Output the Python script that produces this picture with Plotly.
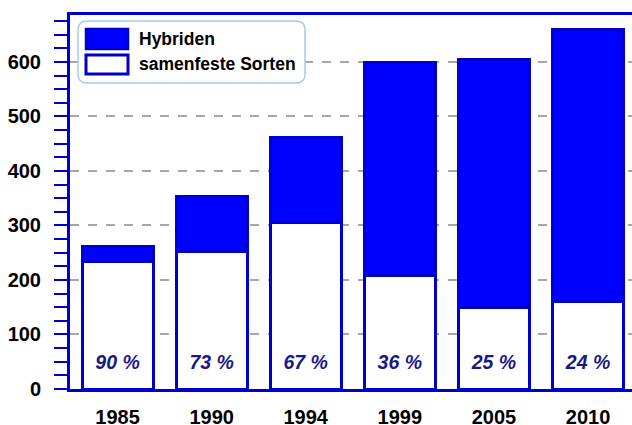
import plotly.graph_objects as go

years = ["1985", "1990", "1994", "1999", "2005", "2010"]
samenfest = [233, 253, 306, 209, 150, 160]
hybriden = [29, 101, 156, 389, 454, 500]
percent_labels = ["90 %", "73 %", "67 %", "36 %", "25 %", "24 %"]
label_level = 46
series_names = ["Hybriden", "samenfeste Sorten"]

W, H = 632, 425
ML, MR, MT, MB = 70, 0, 15, 36
PW, PH = W - ML - MR, H - MT - MB

def px(x):
    return (x - ML) / PW

def py(y):
    return (H - MB - y) / PH

FONT = "Liberation Sans, Arial, sans-serif"
EDGE = "#0000cc"

fig = go.Figure()
fig.add_trace(go.Bar(x=years, y=samenfest, name=series_names[1],
                     marker=dict(color="white", line=dict(color=EDGE, width=3)),
                     showlegend=False))
fig.add_trace(go.Bar(x=years, y=hybriden, name=series_names[0],
                     marker=dict(color="#0000ff", line=dict(color=EDGE, width=3)),
                     showlegend=False))
# percent labels as a text layer
fig.add_trace(go.Scatter(x=years, y=[label_level] * len(years), mode="text",
                         text=percent_labels, textposition="middle center",
                         textfont=dict(family=FONT, size=19.5, color="#18188a",
                                       weight="bold", style="italic"),
                         showlegend=False, hoverinfo="skip", cliponaxis=False))

# legend drawn manually (rounded box with large swatches)
x0, x1, y0, y1 = px(78), px(305), py(21), py(83)
rx, ry = 9 / PW, 9 / PH
path = (f"M{x0+rx},{y0} L{x1-rx},{y0} Q{x1},{y0} {x1},{y0-ry} "
        f"L{x1},{y1+ry} Q{x1},{y1} {x1-rx},{y1} L{x0+rx},{y1} "
        f"Q{x0},{y1} {x0},{y1+ry} L{x0},{y0-ry} Q{x0},{y0} {x0+rx},{y0} Z")
fig.add_shape(type="path", path=path, xref="paper", yref="paper",
              line=dict(color="#a8c8f0", width=1.5), fillcolor="white", layer="above")
fig.add_shape(type="rect", xref="paper", yref="paper", x0=px(86), x1=px(128),
              y0=py(29), y1=py(49), fillcolor="#0000ff",
              line=dict(color=EDGE, width=2.5), layer="above")
fig.add_shape(type="rect", xref="paper", yref="paper", x0=px(86), x1=px(128),
              y0=py(55), y1=py(74), fillcolor="white",
              line=dict(color=EDGE, width=3), layer="above")
for name, yy in zip(series_names, [39, 64]):
    fig.add_annotation(xref="paper", yref="paper", x=px(137), y=py(yy), text=name,
                       xanchor="left", yanchor="middle", showarrow=False,
                       font=dict(family=FONT, size=17.5, color="black", weight="bold"))

fig.update_layout(
    width=W, height=H, barmode="stack", bargap=0.245,
    margin=dict(l=ML, r=MR, t=MT, b=MB, autoexpand=False),
    plot_bgcolor="white", paper_bgcolor="white",
    font=dict(family=FONT, color="black"),
)
fig.update_xaxes(
    type="category", range=[-0.505, 5.467], showgrid=False, showline=True,
    linecolor=EDGE, linewidth=3, mirror=True, ticks="", ticklabelstandoff=8,
    automargin=False,
    tickfont=dict(family=FONT, size=20, color="black", weight="bold"),
)
fig.update_yaxes(
    range=[0, 686], dtick=100, showgrid=True, gridcolor="#a6a6a6", gridwidth=2,
    griddash="9px,9px", zeroline=False, showline=True, linecolor=EDGE, linewidth=3,
    mirror=False,
    ticks="outside", ticklen=13, tickwidth=2, tickcolor=EDGE, ticklabelstandoff=9,
    automargin=False,
    minor=dict(dtick=25, ticks="outside", ticklen=13, tickwidth=2, tickcolor=EDGE,
               showgrid=False),
    tickfont=dict(family=FONT, size=20, color="black", weight="bold"),
)

fig.write_html("out.html", config={"displayModeBar": False},
               post_script="document.body.style.margin='0';document.body.style.overflow='hidden';")
